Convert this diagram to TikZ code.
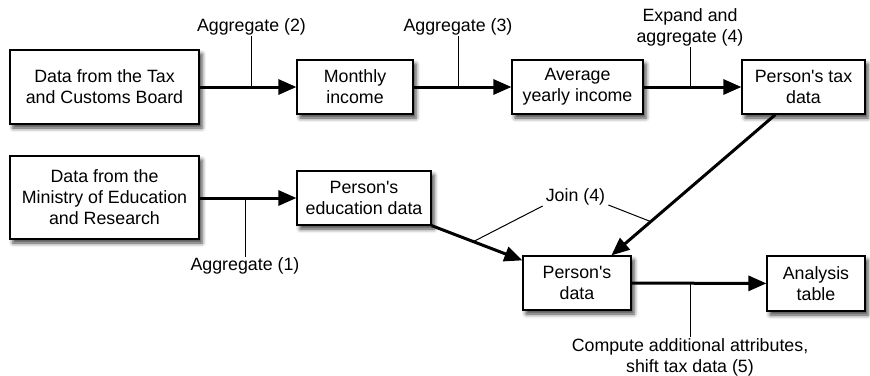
\documentclass[tikz,border=0pt]{standalone}
\usepackage{fontspec}
\setmainfont{Liberation Sans}
\usetikzlibrary{arrows.meta,calc,shadows.blur}
\newcommand{\apos}{\textquotesingle}
\tikzset{
  box/.style={draw=black, line width=1.2pt, fill=white, align=center,
    inner sep=2pt,
    blur shadow={shadow xshift=3pt, shadow yshift=-4pt,
      shadow blur radius=4pt, shadow opacity=75}},
  flow/.style={line width=3pt, -{Triangle[length=18pt,width=15pt]}},
  tick/.style={line width=1pt},
  lbl/.style={align=center, inner sep=1pt},
}
\begin{document}
\begin{tikzpicture}[x=1pt, y=-1pt, font=\fontsize{17.8}{21}\selectfont]
\useasboundingbox (0,0) rectangle (870,375);

% processing stages
\node[box, minimum width=189, minimum height=74] (tax)   at (104.5,87)  {Data from the Tax\\and Customs Board};
\node[box, minimum width=116, minimum height=54] (month) at (355,87)    {Monthly\\income};
\node[box, minimum width=131, minimum height=54] (avg)   at (577.5,87)  {Average\\yearly income};
\node[box, minimum width=123, minimum height=54] (ptax)  at (803.5,87)  {Person\apos s tax\\data};
\node[box, minimum width=189, minimum height=83] (min)   at (104.5,197.5) {Data from the\\Ministry of Education\\and Research};
\node[box, minimum width=134, minimum height=54] (edu)   at (364,198)   {Person\apos s\\education data};
\node[box, minimum width=108, minimum height=54] (pd)    at (577,283)   {Person\apos s\\data};
\node[box, minimum width=98,  minimum height=55] (an)    at (816,283.5) {Analysis\\table};

% main flows
\draw[flow] (tax) -- (month);
\draw[flow] (month) -- (avg);
\draw[flow] (avg) -- (ptax);
\draw[flow] (min.east |- edu.west) -- (edu.west);
\draw[flow] (pd) -- (an);
\coordinate (eduA) at (edu.south east);
\coordinate (eduB) at ($(pd.north west)+(0,5)$);
\coordinate (taxA) at ($(ptax.south west)+(34,0)$);
\coordinate (taxB) at ($(pd.north west)+(89,0)$);
\draw[flow] (eduA) -- (eduB);
\draw[flow] (taxA) -- (taxB);

% step labels
\node[lbl] (l2) at (251.5,27) {Aggregate (2)};
\node[lbl] (l3) at (458,27)   {Aggregate (3)};
\node[lbl] (l4) at (690,27.5) {Expand and\\aggregate (4)};
\node[lbl] (l1) at (245,266)  {Aggregate (1)};
\node[lbl] (lj) at (575.5,197) {Join (4)};
\node[lbl] (l5) at (690,357)  {Compute additional attributes,\\shift tax data (5)};

\draw[tick] (l2.south) -- (l2.south |- tax.east);
\draw[tick] (l3.south) -- (l3.south |- month.east);
\draw[tick] (l4.south) -- (l4.south |- avg.east);
\draw[tick] (l1.north) -- (l1.north |- edu.west);
\draw[tick] (l5.north) -- (l5.north |- pd.east);
\draw[tick] ($(lj.west)+(-2,9)$) -- ($(eduA)!0.46!(eduB)$);
\draw[tick] ($(lj.east)+(2,8)$) -- ($(taxA)!0.76!(taxB)$);
\end{tikzpicture}
\end{document}
